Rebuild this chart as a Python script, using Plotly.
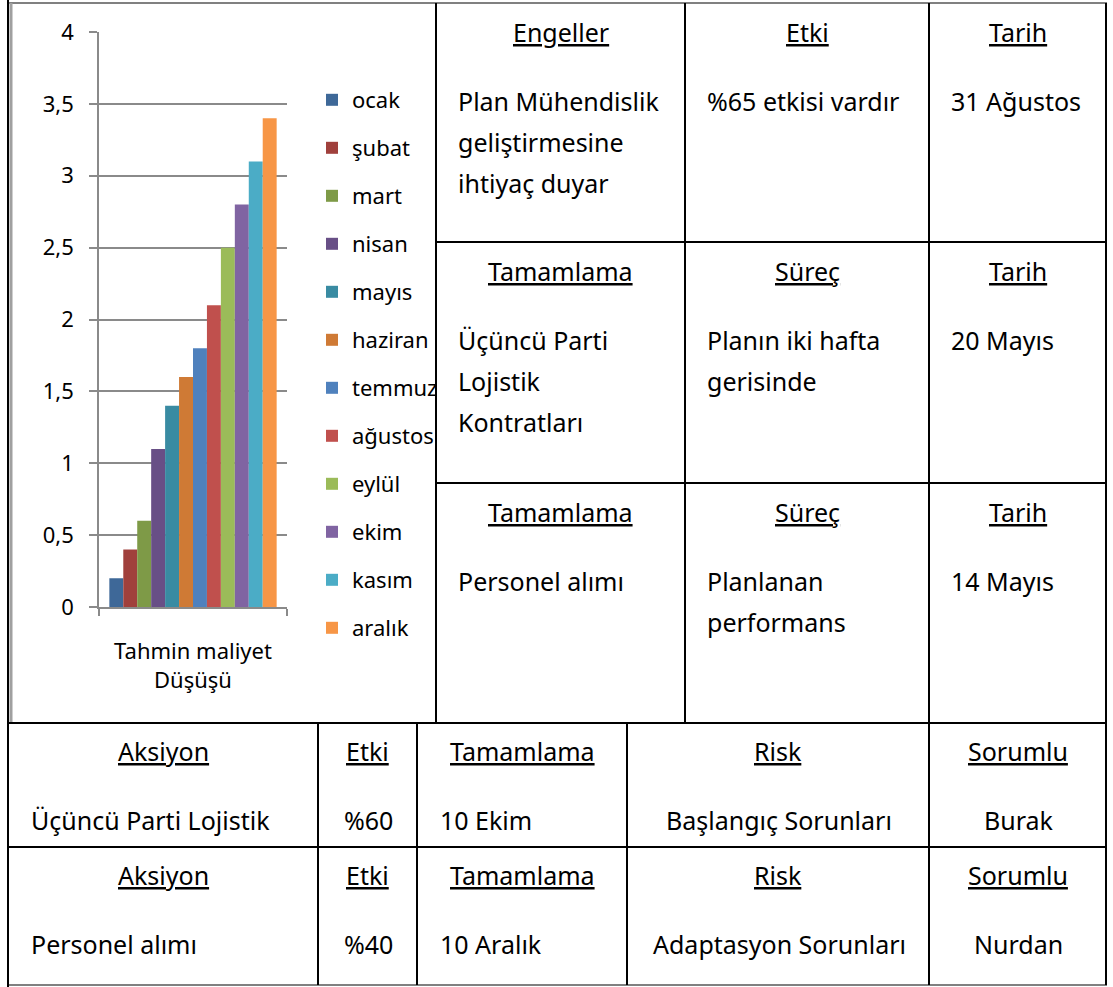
import plotly.graph_objects as go

# ---------------- data ----------------
months = ["ocak", "şubat", "mart", "nisan", "mayıs", "haziran",
          "temmuz", "ağustos", "eylül", "ekim", "kasım", "aralık"]
values = [0.2, 0.4, 0.6, 1.1, 1.4, 1.6, 1.8, 2.1, 2.5, 2.8, 3.1, 3.4]
colors = ["#3E6898", "#A0403C", "#7E9A47", "#684F86", "#398BA2", "#CF7A35",
          "#4F81BD", "#C0504D", "#9BBB59", "#8064A2", "#4BACC6", "#F79646"]
category = "Tahmin maliyet<br>Düşüşü"
y_ticks = [0, 0.5, 1, 1.5, 2, 2.5, 3, 3.5, 4]

# top-right table: (header, body lines) per cell, rows x cols
top_headers = [["Engeller", "Etki", "Tarih"],
               ["Tamamlama", "Süreç", "Tarih"],
               ["Tamamlama", "Süreç", "Tarih"]]
top_bodies = [[["Plan Mühendislik", "geliştirmesine", "ihtiyaç duyar"], ["%65 etkisi vardır"], ["31 Ağustos"]],
              [["Üçüncü Parti", "Lojistik", "Kontratları"], ["Planın iki hafta", "gerisinde"], ["20 Mayıs"]],
              [["Personel alımı"], ["Planlanan", "performans"], ["14 Mayıs"]]]

# bottom table
bottom_headers = ["Aksiyon", "Etki", "Tamamlama", "Risk", "Sorumlu"]
bottom_rows = [["Üçüncü Parti Lojistik", "%60", "10 Ekim", "Başlangıç Sorunları", "Burak"],
               ["Personel alımı", "%40", "10 Aralık", "Adaptasyon Sorunları", "Nurdan"]]

# ---------------- layout geometry (pixels) ----------------
W, H = 1113, 987
FONT = "Noto Sans"
TXT = 25
CHART_TXT = 22

def px(x):
    return x / W

def py(y):
    return 1 - y / H

fig = go.Figure()

for m, v, c in zip(months, values, colors):
    fig.add_trace(go.Bar(name=m, x=[category], y=[v], marker_color=c,
                         marker_line_width=0, legendgroup=m))

shapes = []
ann = []

def line(x0, y0, x1, y1, color="black", width=2):
    shapes.append(dict(type="line", xref="paper", yref="paper",
                       x0=px(x0), y0=py(y0), x1=px(x1), y1=py(y1),
                       line=dict(color=color, width=width), layer="above"))

def text(x, y, s, xanchor="left", underline=False):
    if underline:
        s = "<u>" + s + "</u>"
    ann.append(dict(xref="paper", yref="paper", x=px(x), y=py(y), text=s, showarrow=False,
                    xanchor=xanchor, yanchor="middle",
                    font=dict(family=FONT, size=TXT, color="black")))

# frame
line(8, 3, 1107, 3, color="#808080", width=2)
line(8, 985, 1107, 985, color="#808080", width=2)
line(11, 3, 11, 723, color="#A0A0A0", width=3)
line(8, 0, 8, 987, color="black", width=2)
line(1106, 3, 1106, 985)

# top section
top_cols = [436, 685, 929, 1106]
top_rows = [3, 242, 483, 723]
for x in top_cols[:-1]:
    line(x, 3, x, 723)
for y in top_rows[1:-1]:
    line(436, y, 1106, y)
line(8, 723, 1106, 723)

for r in range(3):
    y0 = top_rows[r]
    for c in range(3):
        xc = (top_cols[c] + top_cols[c + 1]) / 2
        text(xc, y0 + 29, top_headers[r][c], xanchor="center", underline=True)
        for k, s in enumerate(top_bodies[r][c]):
            text(top_cols[c] + 20, y0 + 98 + 41 * k, s)

# bottom section
bot_cols = [8, 318, 417, 627, 929, 1106]
bot_rows = [723, 847, 985]
for x in bot_cols[1:-1]:
    line(x, 723, x, 985)
line(8, 847, 1106, 847)

body_anchor = ["left", "center", "left", "center", "center"]
for r in range(2):
    y0 = bot_rows[r]
    for c in range(5):
        xc = (bot_cols[c] + bot_cols[c + 1]) / 2
        text(xc, y0 + 28, bottom_headers[c], xanchor="center", underline=True)
        if body_anchor[c] == "left":
            text(bot_cols[c] + 21, y0 + 97, bottom_rows[r][c])
        else:
            text(xc + 1, y0 + 97, bottom_rows[r][c], xanchor="center")

fig.update_layout(
    width=W, height=H,
    margin=dict(l=0, r=0, t=0, b=0),
    paper_bgcolor="white", plot_bgcolor="white",
    separators=",.",
    barmode="group", bargap=0.11, bargroupgap=0,
    font=dict(family=FONT, size=CHART_TXT, color="black"),
    xaxis=dict(domain=[px(99), px(287)], showline=True, linecolor="#8a8a8a", linewidth=1.5,
               ticks="outside", tickson="boundaries", ticklen=7, tickcolor="#8a8a8a",
               tickwidth=1.5, tickfont=dict(size=CHART_TXT), showgrid=False, fixedrange=True,
               automargin=False, ticklabelstandoff=24),
    yaxis=dict(domain=[py(607), py(32)], range=[0, 4], tickvals=y_ticks,
               showline=True, linecolor="#8a8a8a", linewidth=1.5, ticks="outside",
               ticklen=8, tickcolor="#8a8a8a", tickwidth=1.5, showgrid=True,
               gridcolor="#8a8a8a", gridwidth=1.5, tickfont=dict(size=CHART_TXT),
               zeroline=False, fixedrange=True, automargin=False, ticklabelstandoff=11),
    legend=dict(x=px(312), y=py(79), xanchor="left", yanchor="top",
                font=dict(family=FONT, size=CHART_TXT), tracegroupgap=16.4,
                bgcolor="rgba(0,0,0,0)", itemclick=False, itemdoubleclick=False),
    shapes=shapes, annotations=ann,
    showlegend=True,
)

fig.write_html("out.html")
